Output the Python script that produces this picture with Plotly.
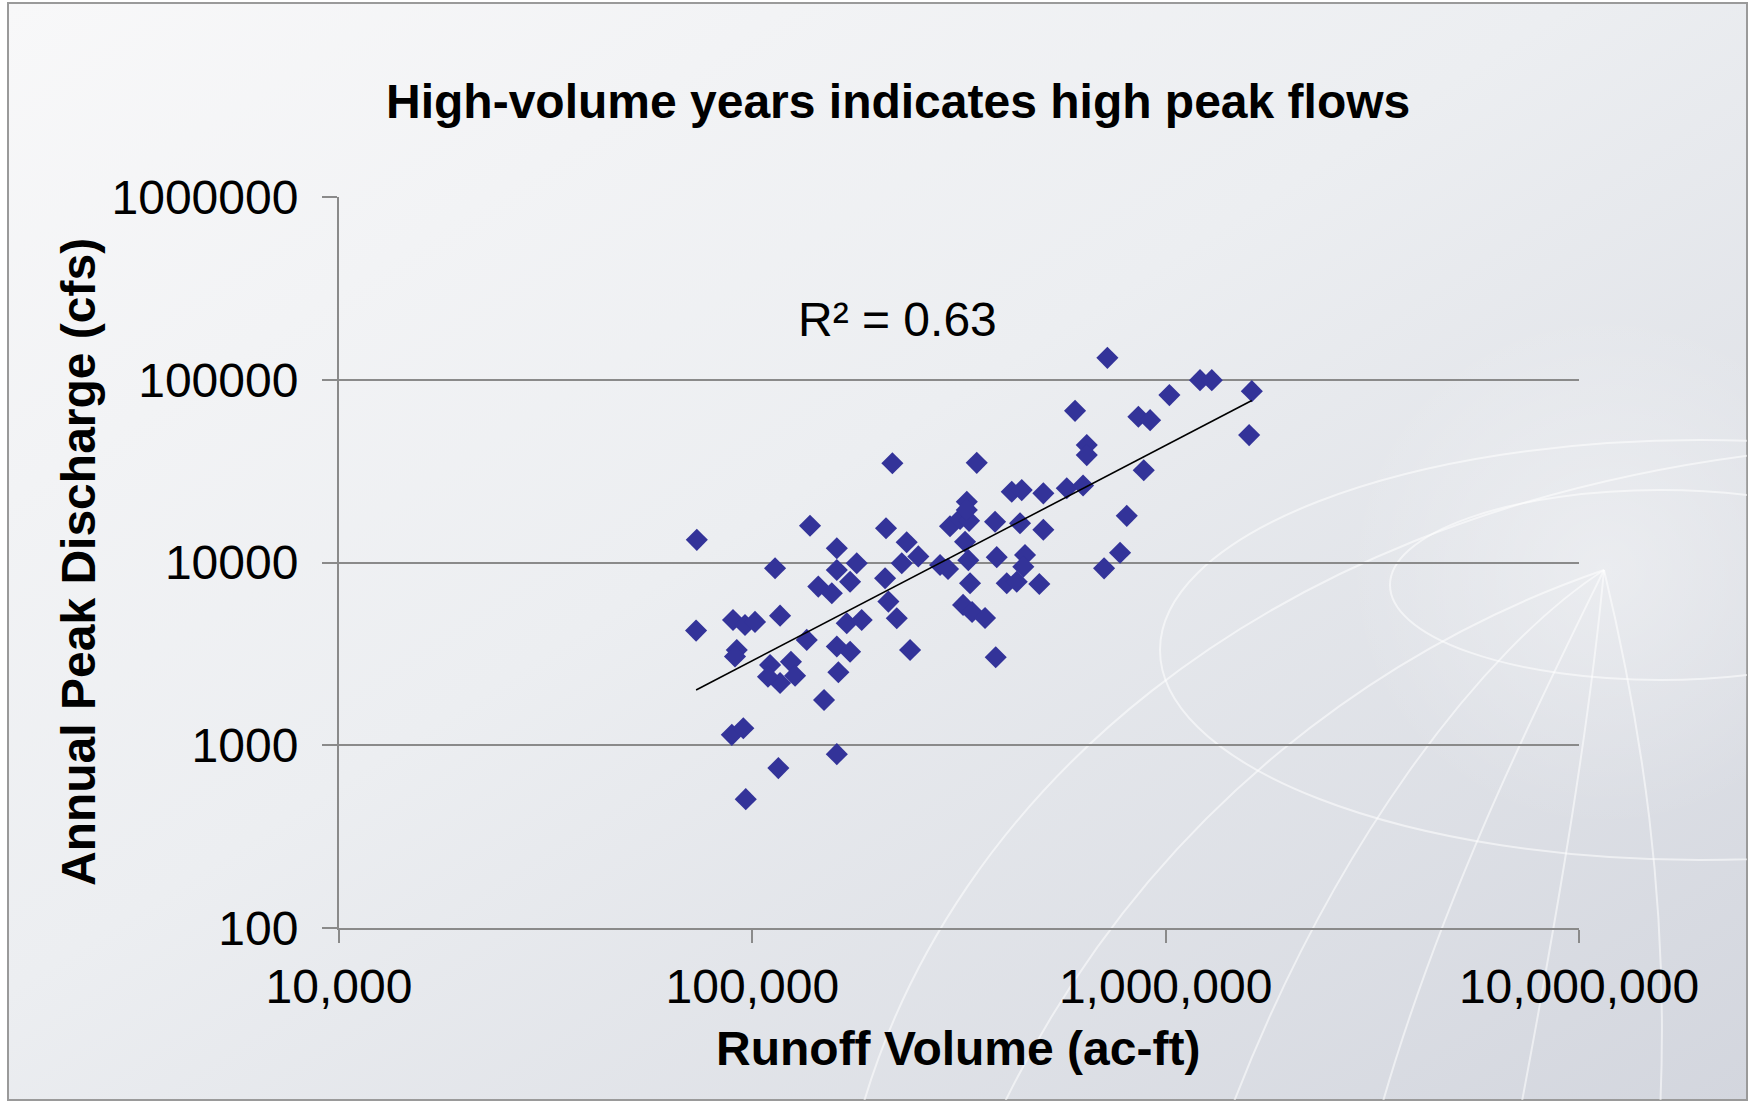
import base64
import numpy as np
import plotly.graph_objects as go

# ---- data ----
runoff_volume = [73400, 73100, 89800, 96000, 101500, 91700, 90800, 89200, 95100, 96400,
                 113500, 116700, 110400, 124000, 126900, 116700, 109100, 115600, 137900, 135400,
                 149100, 160100, 160100, 178900, 160100, 172400, 144400, 155700, 169200, 183900,
                 160100, 172400, 161500, 210600, 236300, 218200, 229900, 252100, 209500, 284600,
                 297500, 213400, 223600, 240800, 300800, 318100, 334500, 330300, 330300, 327100,
                 333100, 336300, 323500, 340100, 365600, 388000, 349100, 386600, 444300, 505900,
                 424200, 448500, 505900, 576400, 390200, 456800, 452500, 412600, 436200, 494700,
                 631200, 644400, 644400, 885100, 805200, 775700, 709600, 722800, 1211000, 1293000,
                 1021000, 1616000, 603600, 859000, 917000, 1592000]
peak_discharge = [13300, 4240, 4850, 4550, 4730, 3320, 3060, 1140, 1240, 507,
                  9300, 5120, 2750, 2860, 2400, 2190, 2370, 750, 15900, 3770,
                  1770, 894, 11960, 9900, 9100, 7850, 7380, 6790, 4650, 4850,
                  3470, 3250, 2510, 15400, 12900, 34900, 9900, 10800, 8200, 9690,
                  9220, 6110, 4950, 3320, 15800, 17300, 16900, 21500, 19400, 13000,
                  10300, 7700, 5860, 5360, 4970, 3030, 35100, 16700, 16400, 15100,
                  24400, 24900, 23900, 25500, 10700, 11000, 9480, 7700, 7850, 7630,
                  26400, 43900, 38700, 32000, 18000, 11300, 9290, 131800, 99500, 99500,
                  82400, 86600, 67600, 62700, 60100, 49800]

x_tickvals = [10000, 100000, 1000000, 10000000]
x_ticktext = ["10,000", "100,000", "1,000,000", "10,000,000"]
y_tickvals = [100, 1000, 10000, 100000, 1000000]
y_ticktext = ["100", "1000", "10000", "100000", "1000000"]

title_text = "High-volume years indicates high peak flows"
x_title = "Runoff Volume (ac-ft)"
y_title = "Annual Peak Discharge (cfs)"
r2_text = "R² = 0.63"

# ---- power trendline (least squares in log space) ----
lx = np.log10(runoff_volume)
ly = np.log10(peak_discharge)
slope, intercept = np.polyfit(lx, ly, 1)
trend_x = np.array([min(runoff_volume), max(runoff_volume)])
trend_y = 10 ** (intercept + slope * np.log10(trend_x))

# ---- background (slide-like gradient with faint globe lines) ----
W, H = 1753, 1112
svg = f'''<svg xmlns="http://www.w3.org/2000/svg" width="{W}" height="{H}" viewBox="0 0 {W} {H}">
<defs>
<linearGradient id="g" x1="0" y1="0" x2="1" y2="1">
<stop offset="0" stop-color="#f8f8f9"/>
<stop offset="0.45" stop-color="#eceef1"/>
<stop offset="1" stop-color="#d3d6de"/>
</linearGradient>
<radialGradient id="s" cx="1604" cy="570" r="260" gradientUnits="userSpaceOnUse">
<stop offset="0" stop-color="#ffffff" stop-opacity="0.35"/>
<stop offset="1" stop-color="#ffffff" stop-opacity="0"/>
</radialGradient>
<clipPath id="c"><rect x="8" y="3" width="1739" height="1097"/></clipPath>
</defs>
<rect x="0" y="0" width="{W}" height="{H}" fill="#ffffff"/>
<rect x="8" y="3" width="1739" height="1097" fill="url(#g)" stroke="#9a9a9a" stroke-width="2"/>
<g clip-path="url(#c)">
<rect x="1300" y="300" width="460" height="560" fill="url(#s)"/>
<g fill="none" stroke="#ffffff" stroke-opacity="0.55" stroke-width="2">
<path d="M861 1112 C950 800 1250 520 1753 455"/>
<ellipse cx="1660" cy="585" rx="270" ry="95"/>
<ellipse cx="1700" cy="650" rx="540" ry="210"/>
<path d="M1604 570 C1480 650 1330 850 1230 1112"/>
<path d="M1604 570 C1540 700 1440 900 1380 1112"/>
<path d="M1604 570 C1590 720 1560 900 1520 1112"/>
<path d="M1604 570 C1640 720 1670 900 1660 1112"/>
<path d="M1604 570 C1400 640 1150 800 1000 1112"/>
</g>
</g>
</svg>'''
bg_src = "data:image/svg+xml;base64," + base64.b64encode(svg.encode("utf-8")).decode("ascii")

# plot area in pixels
L, R, T, B = 339, 174, 197, 184
pw, ph = W - L - R, H - T - B

FONT = "Liberation Sans, Arial, Helvetica, sans-serif"
FS = 48

fig = go.Figure()
fig.add_trace(go.Scatter(
    x=runoff_volume, y=peak_discharge, mode="markers",
    marker=dict(symbol="diamond", size=17, color="#333399", line=dict(width=0)),
    showlegend=False, hoverinfo="x+y"))
fig.add_trace(go.Scatter(
    x=trend_x, y=trend_y, mode="lines",
    line=dict(color="#000000", width=1.6), showlegend=False, hoverinfo="skip"))

fig.update_layout(
    width=W, height=H, autosize=False,
    margin=dict(l=L, r=R, t=T, b=B, pad=0),
    paper_bgcolor="#ffffff", plot_bgcolor="rgba(0,0,0,0)",
    font=dict(family=FONT, size=FS, color="#000000"),
    images=[dict(source=bg_src, xref="paper", yref="paper",
                 x=-L / pw, y=1 + T / ph, sizex=W / pw, sizey=H / ph,
                 xanchor="left", yanchor="top", sizing="stretch", layer="below")],
    annotations=[
        dict(text="<b>" + title_text + "</b>", xref="paper", yref="paper",
             x=(898 - L) / pw, y=1 + (T - 101) / ph, xanchor="center", yanchor="middle",
             showarrow=False, font=dict(size=FS)),
        dict(text="<b>" + x_title + "</b>", xref="paper", yref="paper",
             x=(958 - L) / pw, y=-(1048 - (T + ph)) / ph, xanchor="center", yanchor="middle",
             showarrow=False, font=dict(size=FS)),
        dict(text="<b>" + y_title + "</b>", xref="paper", yref="paper",
             x=-(L - 78) / pw, y=1 - (562 - T) / ph, xanchor="center", yanchor="middle",
             textangle=-90, showarrow=False, font=dict(size=FS)),
        dict(text=r2_text, xref="x", yref="y",
             x=np.log10(225000), y=np.log10(215000), xanchor="center", yanchor="middle",
             showarrow=False, font=dict(size=FS)),
    ],
)

fig.update_xaxes(
    type="log", range=[4, 7], tickvals=x_tickvals, ticktext=x_ticktext,
    showgrid=False, zeroline=False, showline=True, linecolor="#8a8a8a", linewidth=2,
    ticks="outside", ticklen=13, tickwidth=2, tickcolor="#8a8a8a",
    tickfont=dict(size=FS), ticklabelstandoff=2)
fig.update_yaxes(
    type="log", range=[2, 6], tickvals=y_tickvals, ticktext=y_ticktext,
    showgrid=True, gridcolor="#8a8a8a", gridwidth=2, zeroline=False,
    showline=True, linecolor="#8a8a8a", linewidth=2,
    ticks="outside", ticklen=15, tickwidth=2, tickcolor="#8a8a8a",
    tickfont=dict(size=FS), ticklabelstandoff=14)

fig.write_html("out.html", config={"displayModeBar": False},
               post_script="document.body.style.margin='0';document.body.style.padding='0';")
